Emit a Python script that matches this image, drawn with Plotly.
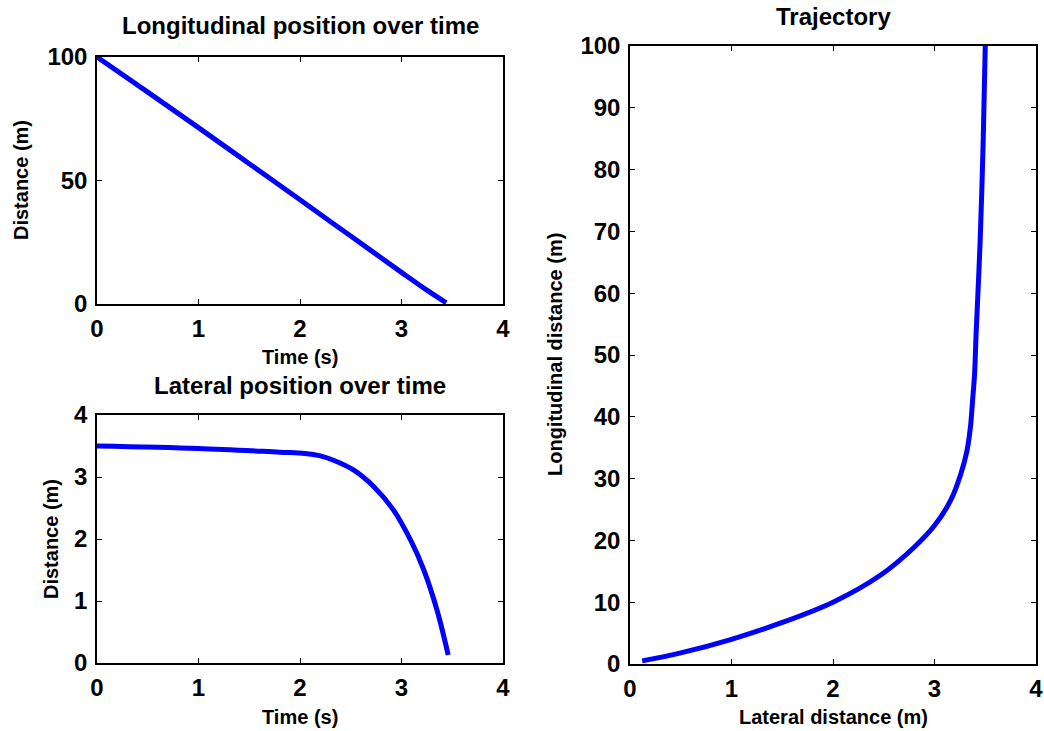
import plotly.graph_objects as go

# Longitudinal position over time
time_long = [0.0, 0.5, 1.0, 1.5, 2.0, 2.5, 3.0, 3.25, 3.44]
long_pos = [100.0, 85.8, 71.4, 56.8, 42.2, 27.5, 12.8, 5.6, 0.5]

# Lateral position over time
time_lat = [0.0, 1.0, 1.8, 2.05, 2.2, 2.33, 2.53, 2.73, 2.92, 3.09, 3.22, 3.35, 3.46]
lat_pos = [3.50, 3.46, 3.40, 3.38, 3.34, 3.27, 3.11, 2.84, 2.47, 1.98, 1.50, 0.85, 0.13]

# Trajectory: lateral vs longitudinal distance
traj_lat = [0.12, 0.50, 1.00, 1.48, 2.00, 2.47, 2.80, 3.00, 3.16, 3.26, 3.32, 3.355,
            3.375, 3.395, 3.41, 3.45, 3.48, 3.50]
traj_lon = [0.5, 1.8, 4.0, 6.6, 10.0, 14.4, 18.9, 22.4, 26.5, 30.8, 34.5, 38.5,
            42.6, 47.0, 53.5, 68.6, 84.8, 100.0]

W, H = 1044, 731
FONT = "Liberation Sans"
LINE = dict(color="#0000FF", width=5, shape="spline", smoothing=1.0)


def px_x(v):
    return v / W


def px_y(v):
    return 1 - v / H


fig = go.Figure()
fig.add_trace(go.Scatter(x=time_long, y=long_pos, mode="lines", line=LINE,
                         xaxis="x", yaxis="y", showlegend=False))
fig.add_trace(go.Scatter(x=time_lat, y=lat_pos, mode="lines", line=LINE,
                         xaxis="x2", yaxis="y2", showlegend=False))
fig.add_trace(go.Scatter(x=traj_lat, y=traj_lon, mode="lines", line=LINE,
                         xaxis="x3", yaxis="y3", showlegend=False))

tickfont = dict(family=FONT, size=24, color="black", weight="bold")


def axis(domain, rng, dtick, anchor, standoff):
    return dict(domain=domain, range=rng, dtick=dtick, tick0=0, anchor=anchor,
                showline=True, linecolor="black", linewidth=1.5, mirror="ticks",
                ticks="inside", ticklen=5, tickcolor="black", tickwidth=1,
                showgrid=False, zeroline=False, tickfont=tickfont, automargin=False,
                ticklabelstandoff=standoff, fixedrange=True)


fig.update_layout(
    width=W, height=H, autosize=False,
    margin=dict(l=0, r=0, t=0, b=0),
    paper_bgcolor="white", plot_bgcolor="white",
    xaxis=axis([px_x(97), px_x(503)], [0, 4], 1, "y", 2),
    yaxis=axis([px_y(304), px_y(57)], [0, 100], 50, "x", 3),
    xaxis2=axis([px_x(97), px_x(503)], [0, 4], 1, "y2", 2),
    yaxis2=axis([px_y(663), px_y(415)], [0, 4], 1, "x2", 3),
    xaxis3=axis([px_x(630), px_x(1036)], [0, 4], 1, "y3", 2),
    yaxis3=axis([px_y(664), px_y(46)], [0, 100], 10, "x3", 3),
)

labels = [
    # text, x px, y px, size, angle
    ("Longitudinal position over time", 300, 26, 24, 0),
    ("Lateral position over time", 300, 385, 24, 0),
    ("Trajectory", 833, 16, 24, 0),
    ("Time (s)", 300, 357, 20, 0),
    ("Time (s)", 300, 717, 20, 0),
    ("Lateral distance (m)", 833, 717, 20, 0),
    ("Distance (m)", 21, 180, 20, -90),
    ("Distance (m)", 51, 539, 20, -90),
    ("Longitudinal distance (m)", 555, 355, 20, -90),
]
for text, x, y, size, ang in labels:
    fig.add_annotation(text=text, x=px_x(x), y=px_y(y), xref="paper", yref="paper",
                       showarrow=False, textangle=ang, xanchor="center", yanchor="middle",
                       font=dict(family=FONT, size=size, color="black", weight="bold"))

fig.write_html("out.html")
